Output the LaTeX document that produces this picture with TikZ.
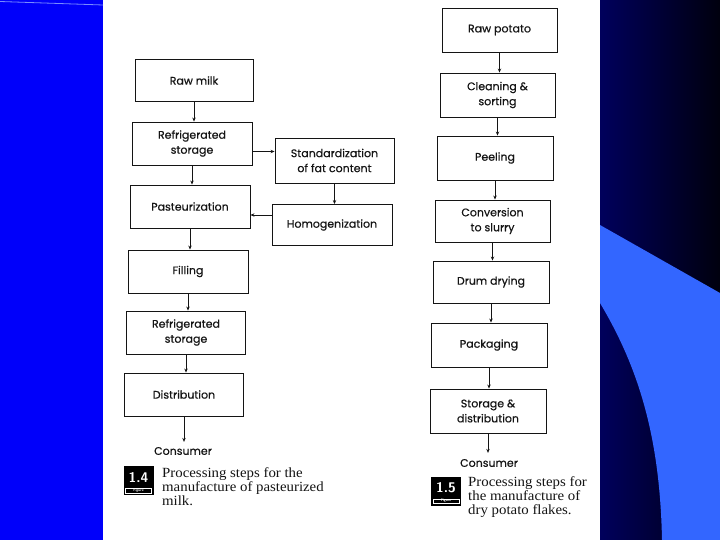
\documentclass[tikz,border=0pt]{standalone}
\usepackage{fontspec}
\setmainfont{Poppins}
\newfontfamily\boxfont{Poppins}[FakeBold=0.5]
\newfontfamily\capfont{Liberation Serif}[FakeStretch=1.06]
\usetikzlibrary{arrows.meta}
\definecolor{leftblue}{RGB}{0,0,250}
\definecolor{navyL}{RGB}{0,0,92}
\definecolor{navyR}{RGB}{0,0,14}
\definecolor{lightblue}{RGB}{51,102,255}
\definecolor{ink}{RGB}{20,20,20}
\begin{document}
\begin{tikzpicture}[x=1pt,y=-1pt,
  pbox/.style n args={2}{draw=ink, line width=0.9pt, minimum width=#1pt, minimum height=#2pt,
    inner sep=0pt, align=center, text=ink, font=\boxfont\fontsize{11}{15}\selectfont},
  endtext/.style={text=ink, inner sep=0pt, font=\boxfont\fontsize{11}{15}\selectfont},
  arr/.style={draw=ink, line width=0.7pt, -{Stealth[length=4pt,width=3.4pt]}},
  badge/.style={fill=black, draw=black, minimum width=29pt, minimum height=28pt, inner sep=0pt},
  captext/.style={text=ink, inner sep=0pt, align=left, anchor=north west,
    font=\capfont\fontsize{14}{14}\selectfont}]
% background
\useasboundingbox (0,0) rectangle (720,540);
\fill[white] (0,0) rectangle (720,540);
\fill[leftblue] (0,0) rectangle (103,540);
\draw[color={rgb,255:red,120;green,140;blue,255}, line width=0.8pt] (0,1.5) -- (103,5);
\shade[left color=navyL, right color=navyR] (600,0) rectangle (720,540);
\fill[lightblue] (600,225) -- (720,293) -- (720,540) -- (662,540)
  .. controls (660,440) and (640,370) .. (600,303) -- cycle;

% left flow chart (milk)
\node[pbox={118}{42}] (rawmilk) at (194,80.5) {Raw milk};
\node[pbox={120}{43}] (ref1) at (192,143.5) {Refrigerated\\storage};
\node[pbox={119}{45}] (std) at (334.5,160.5) {Standardization\\of fat content};
\node[pbox={120}{43}] (past) at (190,206.5) {Pasteurization};
\node[pbox={120}{41}] (homog) at (332,225) {Homogenization};
\node[pbox={120}{43}] (fill) at (188,271.5) {Filling};
\node[pbox={119}{43}] (ref2) at (186,332.5) {Refrigerated\\storage};
\node[pbox={119}{43}] (dist) at (184,394.5) {Distribution};
\node[endtext] (cons1) at (183,451) {Consumer};

\draw[arr] (rawmilk.south) -- (rawmilk.south |- ref1.north);
\draw[arr] (ref1.south) -- (ref1.south |- past.north);
\draw[arr] (past.south) -- (past.south |- fill.north);
\draw[arr] (fill.south) -- (fill.south |- ref2.north);
\draw[arr] (ref2.south) -- (ref2.south |- dist.north);
\draw[arr] (dist.south) -- ([yshift=5pt]dist.south |- cons1.north);
\draw[arr] ([yshift=-8pt]ref1.east) -- ([yshift=-8pt]ref1.east -| std.west);
\draw[arr] (std.south) -- (std.south |- homog.north);
\draw[arr] ([yshift=10pt]homog.west) -- ([yshift=10pt]homog.west -| past.east);

% badge 1.4
\node[badge] (b14) at (138.5,480.5) {};
\node[text=white, inner sep=0pt, font=\sffamily\bfseries\fontsize{14}{14}\selectfont] (b14n) at ([yshift=3pt]b14.center) {1.4};
\node[draw=white, line width=0.4pt, fill=black, text=white, inner sep=0.6pt, minimum width=26pt,
  font=\sffamily\bfseries\fontsize{3.6}{4}\selectfont] (b14f) at ([yshift=-10pt]b14.center) {Figure};
\node[captext] (cap14) at (162,467) {Processing steps for the\\manufacture of pasteurized\\milk.};

% right flow chart (potato)
\node[pbox={115}{44}] (rawpot) at (499.5,30) {Raw potato};
\node[pbox={115}{44}] (clean) at (497.5,95) {Cleaning \&\\sorting};
\node[pbox={116}{44}] (peel) at (495,158) {Peeling};
\node[pbox={115}{42}] (conv) at (492.5,221) {Conversion\\to slurry};
\node[pbox={116}{42}] (drum) at (491,282) {Drum drying};
\node[pbox={116}{44}] (pack) at (489,345) {Packaging};
\node[pbox={116}{44}] (stor) at (488,411) {Storage \&\\distribution};
\node[endtext] (cons2) at (489,463) {Consumer};

\draw[arr] (rawpot.south) -- (rawpot.south |- clean.north);
\draw[arr] (clean.south) -- (clean.south |- peel.north);
\draw[arr] (peel.south) -- (peel.south |- conv.north);
\draw[arr] (conv.south) -- (conv.south |- drum.north);
\draw[arr] (drum.south) -- (drum.south |- pack.north);
\draw[arr] (pack.south) -- (pack.south |- stor.north);
\draw[arr] (stor.south) -- ([yshift=6pt]stor.south |- cons2.north);

% badge 1.5
\node[badge] (b15) at (446,491) {};
\node[text=white, inner sep=0pt, font=\sffamily\bfseries\fontsize{14}{14}\selectfont] (b15n) at ([yshift=3pt]b15.center) {1.5};
\node[draw=white, line width=0.4pt, fill=black, text=white, inner sep=0.6pt, minimum width=26pt,
  font=\sffamily\bfseries\fontsize{3.6}{4}\selectfont] (b15f) at ([yshift=-10pt]b15.center) {Figure};
\node[captext] (cap15) at (468,476) {Processing steps for\\the manufacture of\\dry potato flakes.};
\end{tikzpicture}
\end{document}
